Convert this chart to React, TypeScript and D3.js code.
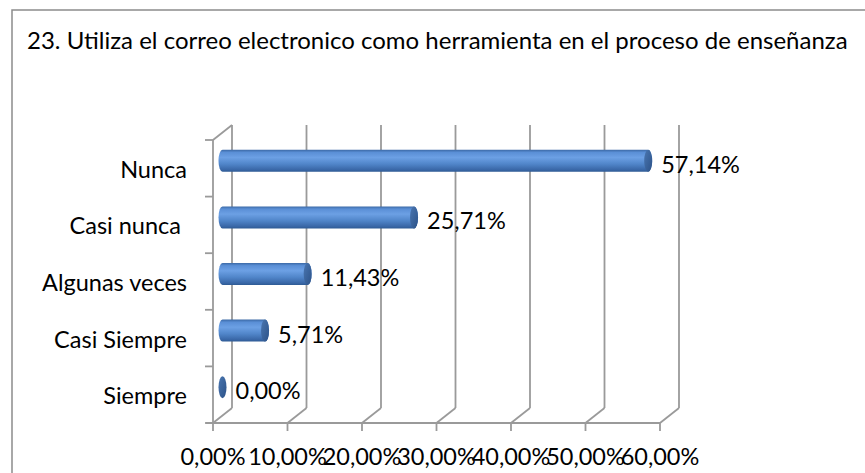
import React from "react";
import * as d3 from "d3";

const categories = ["Nunca", "Casi nunca ", "Algunas veces", "Casi Siempre", "Siempre"];
const values = [57.14, 25.71, 11.43, 5.71, 0.0];
const valueLabels = ["57,14%", "25,71%", "11,43%", "5,71%", "0,00%"];
const tickValues = [0, 10, 20, 30, 40, 50, 60];
const tickLabels = ["0,00%", "10,00%", "20,00%", "30,00%", "40,00%", "50,00%", "60,00%"];
const title = "23. Utiliza el correo electronico como herramienta en el proceso de enseñanza";

const W = 865;
const H = 473;
const FONT = "Lato, 'Open Sans', sans-serif";

export default function App() {
  const x = d3.scaleLinear().domain([0, 60]).range([213, 660]);
  const y = d3.scaleBand<string>().domain(categories).range([140, 423]).paddingInner(0).paddingOuter(0);
  const DX = 19;
  const DY = -15;
  const midX = (v: number) => x(v) + DX / 2;
  const ry = 11;
  const rx = 4;
  const grid = "#9a9a9a";
  const gw = 1.8;
  const bottom = 423;
  const top = 140;
  const fs = 23.5;

  return (
    <svg width={W} height={H} style={{ position: "absolute", left: 0, top: 0, background: "#fff" }}>
      <defs>
        <linearGradient id="body" x1="0" y1="0" x2="0" y2="1">
          <stop offset="0" stopColor="#3b69a6" />
          <stop offset="0.12" stopColor="#5a8fd6" />
          <stop offset="0.35" stopColor="#6ca0e4" />
          <stop offset="0.65" stopColor="#5085c9" />
          <stop offset="0.9" stopColor="#3a68a8" />
          <stop offset="1" stopColor="#2e5a94" />
        </linearGradient>
        <linearGradient id="cap" x1="0" y1="0" x2="1" y2="1">
          <stop offset="0" stopColor="#4a76b0" />
          <stop offset="1" stopColor="#2c5288" />
        </linearGradient>
      </defs>
      {/* frame */}
      <path d={`M12,${H} L12,10 L${W},10`} fill="none" stroke="#8c8c8c" strokeWidth={1.5} />
      <text x={27} y={49} fontFamily={FONT} fontSize={24} fill="#000">{title}</text>

      {/* left wall */}
      <line x1={x(0)} y1={top} x2={x(0)} y2={bottom} stroke={grid} strokeWidth={gw} />
      <line x1={x(0)} y1={top} x2={x(0) + DX} y2={top + DY} stroke={grid} strokeWidth={gw} />
      {/* category ticks */}
      {[...categories.map((c) => y(c) as number), bottom].map((yy, i) => (
        <line key={"ct" + i} x1={x(0) - 8} y1={yy} x2={x(0)} y2={yy} stroke={grid} strokeWidth={gw} />
      ))}
      {/* floor front edge */}
      <line x1={x(0) - 7} y1={bottom} x2={x(60)} y2={bottom} stroke={grid} strokeWidth={gw} />
      {tickValues.map((t) => (
        <g key={"g" + t}>
          <line x1={x(t) + DX} y1={top + DY} x2={x(t) + DX} y2={bottom + DY} stroke={grid} strokeWidth={gw} />
          <line x1={x(t)} y1={bottom} x2={x(t) + DX} y2={bottom + DY} stroke={grid} strokeWidth={gw} />
          <line x1={x(t)} y1={bottom} x2={x(t)} y2={bottom + 8} stroke={grid} strokeWidth={gw} />
        </g>
      ))}

      {/* bars */}
      {categories.map((c, i) => {
        const cy = (y(c) as number) + y.bandwidth() / 2 + DY / 2;
        const x0 = midX(0);
        const x1 = midX(values[i]);
        const body =
          x1 - x0 > 0.5
            ? `M${x0},${cy - ry} L${x1},${cy - ry} A${rx},${ry} 0 0 1 ${x1},${cy + ry} L${x0},${cy + ry} A${rx},${ry} 0 0 1 ${x0},${cy - ry} Z`
            : null;
        return (
          <g key={"b" + i}>
            {body && <path d={body} fill="url(#body)" />}
            <ellipse cx={x1} cy={cy} rx={rx} ry={ry} fill="url(#cap)" />
            <text x={x1 + rx + 9} y={cy + 12} fontFamily={FONT} fontSize={fs} fill="#000">
              {valueLabels[i]}
            </text>
          </g>
        );
      })}

      {/* category labels */}
      {categories.map((c) => (
        <text
          key={"cl" + c}
          x={187}
          y={(y(c) as number) + y.bandwidth() / 2 + 9.5}
          textAnchor="end"
          fontFamily={FONT}
          fontSize={fs}
          fill="#000"
          style={{ whiteSpace: "pre" }}
        >
          {c}
        </text>
      ))}

      {/* tick labels */}
      {tickValues.map((t, i) => (
        <text key={"tl" + t} x={x(t)} y={465} textAnchor="middle" fontFamily={FONT} fontSize={fs} fill="#000">
          {tickLabels[i]}
        </text>
      ))}
    </svg>
  );
}
